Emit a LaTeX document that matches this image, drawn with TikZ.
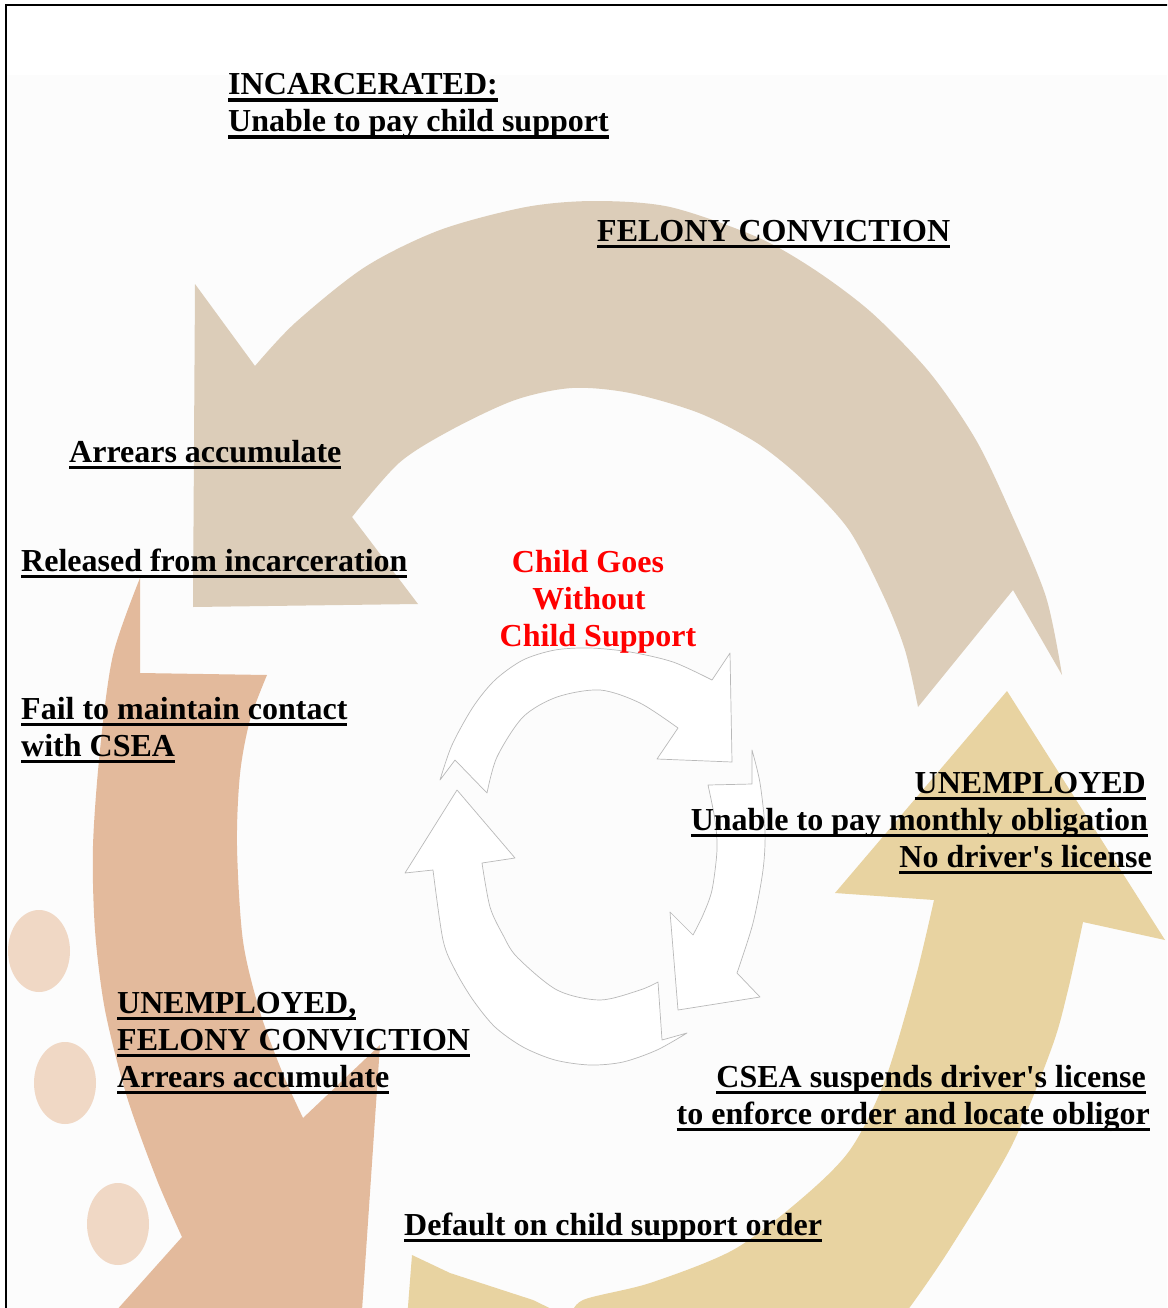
\documentclass[tikz,border=0pt]{standalone}
\usepackage{fontspec}
\setmainfont{Liberation Serif}
\definecolor{felonytan}{RGB}{220,205,185}
\definecolor{contactrose}{RGB}{227,186,156}
\definecolor{licensegold}{RGB}{232,211,161}
\definecolor{spotpink}{RGB}{240,216,197}
\definecolor{paper}{RGB}{252,252,252}
\newsavebox\ulbox
\newcommand\ulbar[1]{\sbox\ulbox{#1}\rlap{\rule[-7pt]{\wd\ulbox}{3.5pt}}\usebox\ulbox}
\begin{document}
\begin{tikzpicture}[x=1pt,y=-1pt,
	lbl/.style={inner sep=0pt, font=\fontsize{32}{37}\selectfont\bfseries},
	cry/.style={lbl, text=red, anchor=base},
	ring/.style={fill=white, draw=gray!55, line width=0.7pt, line join=round}]
		\useasboundingbox (0,0) rectangle (1167,1308);
		\clip (0,0) rectangle (1167,1308);
		\fill [white] (0,0) rectangle (1167,1308);
		\fill [paper] (7,75) rectangle (1167,1308);
		% spots on the left
		\fill [spotpink] (39,951) ellipse [x radius=31, y radius=41];
		\fill [spotpink] (65,1083) ellipse [x radius=31, y radius=41];
		\fill [spotpink] (118,1224) ellipse [x radius=31, y radius=41];
		% big arrows
		\fill [felonytan] (195,284) -- (255,366)
			-- plot [smooth] coordinates {(255,366) (295,323) (365,267) (440,230) (526,207) (595,201) (670,207) (757,237) (815,270) (872,313) (930,373) (976,440) (1011,513) (1046,597) (1062,675)}
			-- (1013,590) -- (918,707)
			-- plot [smooth] coordinates {(918,707) (905,650) (884,597) (849,530) (803,480) (757,443) (699,413) (630,393) (572,388) (515,400) (451,430) (399,463) (352,517)}
			-- (418,604) -- (193,607) -- cycle;
		\fill [contactrose] (140,578) -- (140,673) -- (267,675)
			-- plot [smooth] coordinates {(267,675) (250,720) (240,774) (237,846) (243,941) (260,1012) (283,1074) (303,1118)}
			-- (380,1045) -- (360,1340) -- (90,1340) -- (182,1237)
			-- plot [smooth] coordinates {(182,1237) (157,1180) (127,1097) (105,1010) (95,930) (93,846) (100,750) (113,655) (140,578)}
			-- cycle;
		\fill [licensegold] (1007,691) -- (1165,940) -- (1083,922)
			-- plot [smooth] coordinates {(1083,922) (1068,990) (1052,1047) (1011,1147) (951,1247) (910,1307) (880,1345)}
			-- (405,1345) -- (412,1255) -- (450,1273) -- (533,1300) -- (570,1318)
			-- plot [smooth] coordinates {(570,1318) (583,1300) (650,1283) (733,1250) (800,1200) (850,1150) (885,1080) (915,980) (934,900)}
			-- (835,893) -- cycle;
		% small arrows in the middle
		\draw [ring] (440,780)
			-- plot [smooth] coordinates {(440,780) (452,745) (473,707) (495,680) (523,660) (555,650) (590,648) (630,652) (673,662) (712,680)}
			-- (730,653) -- (732,762) -- (657,759) -- (678,728)
			-- plot [smooth] coordinates {(678,728) (640,703) (600,690) (557,697) (523,717) (497,757) (487,793)}
			-- (455,760) -- cycle;
		\draw [ring] (752,750) -- (752,784) -- (708,785)
			-- plot [smooth] coordinates {(708,785) (715,820) (717,850) (712,890) (703,915) (693,935)}
			-- (670,912) -- (678,1010) -- (760,997) -- (737,973)
			-- plot [smooth] coordinates {(737,973) (753,923) (763,870) (765,830) (760,783) (752,750)}
			-- cycle;
		\draw [ring] (457,790) -- (515,858) -- (482,863)
			-- plot [smooth] coordinates {(482,863) (490,907) (503,935) (517,957) (557,990) (600,1000) (640,990) (658,982)}
			-- (662,1040) -- (687,1033)
			-- plot [smooth] coordinates {(687,1033) (657,1050) (623,1062) (590,1065) (555,1060) (523,1047) (495,1027) (473,1000) (455,970) (443,940) (433,870)}
			-- (405,873) -- cycle;
		% labels
		\node [lbl, anchor=base west] (inc1) at (228,95) {\ulbar{INCARCERATED:}};
		\node [lbl, anchor=base west] (inc2) at (228,132) {\ulbar{Unable to pay child support}};
		\node [lbl, anchor=base west] (fel) at (597,241) {\ulbar{FELONY CONVICTION}};
		\node [lbl, anchor=base west] (arr1) at (69,462) {\ulbar{Arrears accumulate}};
		\node [lbl, anchor=base west] (rel) at (21,571) {\ulbar{Released from incarceration}};
		\node [cry] (cg1) at (588,572) {Child Goes};
		\node [cry] (cg2) at (589,609) {Without};
		\node [cry] (cg3) at (598,646) {Child Support};
		\node [lbl, anchor=base west] (fail1) at (21,719) {\ulbar{Fail to maintain contact}};
		\node [lbl, anchor=base west] (fail2) at (21,756) {\ulbar{with CSEA}};
		\node [lbl, anchor=base east] (une1) at (1146,793) {\ulbar{UNEMPLOYED}};
		\node [lbl, anchor=base east] (une2) at (1148,830) {\ulbar{Unable to pay monthly obligation}};
		\node [lbl, anchor=base east] (une3) at (1152,867) {\ulbar{No driver\textquotesingle s license}};
		\node [lbl, anchor=base west] (unf1) at (117,1013) {\ulbar{UNEMPLOYED,}};
		\node [lbl, anchor=base west] (unf2) at (117,1050) {\ulbar{FELONY CONVICTION}};
		\node [lbl, anchor=base west] (unf3) at (117,1087) {\ulbar{Arrears accumulate}};
		\node [lbl, anchor=base east] (csea1) at (1146,1087) {\ulbar{CSEA suspends driver\textquotesingle s license}};
		\node [lbl, anchor=base east] (csea2) at (1150,1124) {\ulbar{to enforce order and locate obligor}};
		\node [lbl, anchor=base west] (dflt) at (404,1235) {\ulbar{Default on child support order}};
		% frame
		\draw [line width=2pt] (6,1310) -- (6,5) -- (1170,5);
\end{tikzpicture}
\end{document}
